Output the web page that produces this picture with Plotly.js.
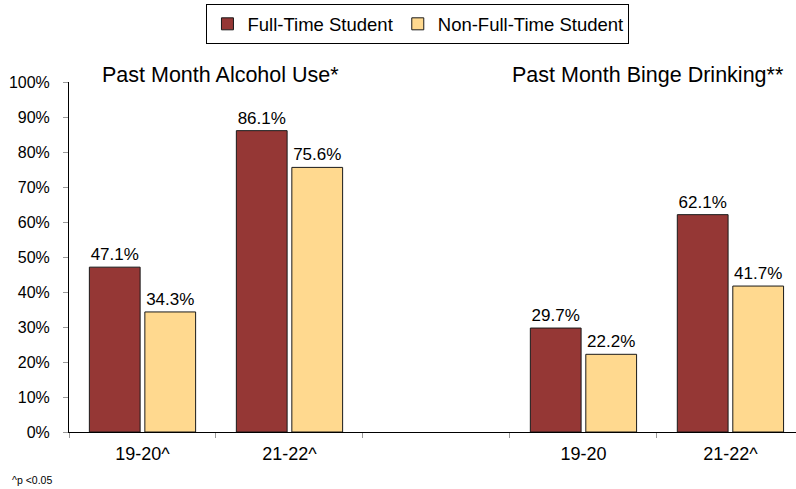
<!DOCTYPE html>
<html>
<head>
<meta charset="utf-8">
<script src="https://cdn.plot.ly/plotly-3.0.1.min.js"></script>
<style>html,body{margin:0;padding:0;background:#fff;}#chart{width:796px;height:489px;}</style>
</head>
<body>
<div id="chart"></div>
<script>
const categories = ["19-20^", "21-22^", "", "19-20", "21-22^"];
const fullTime = [47.1, 86.1, null, 29.7, 62.1];
const nonFullTime = [34.3, 75.6, null, 22.2, 41.7];
const seriesNames = ["Full-Time Student", "Non-Full-Time Student"];
const panelTitles = ["Past Month Alcohol Use*", "Past Month Binge Drinking**"];
const footnote = "^p <0.05";
const yTicks = [0, 10, 20, 30, 40, 50, 60, 70, 80, 90, 100];

const FONT = "Liberation Sans, Arial, sans-serif";
const xIdx = categories.map((_, i) => i);

function barTrace(name, vals, color) {
  return {
    type: "bar", name: name, x: xIdx, y: vals,
    marker: {color: color, line: {color: "#1a1a1a", width: 1}},
    text: vals.map(v => v == null ? "" : v.toFixed(1) + "%"),
    textposition: "outside", cliponaxis: false,
    textfont: {family: FONT, size: 17, color: "#000"},
    hoverinfo: "none"
  };
}

const data = [
  barTrace(seriesNames[0], fullTime, "#953735"),
  barTrace(seriesNames[1], nonFullTime, "#FFD98F")
];

const layout = {
  width: 796, height: 489,
  margin: {l: 69, r: 0, t: 82, b: 57},
  paper_bgcolor: "#fff", plot_bgcolor: "#fff",
  font: {family: FONT, color: "#000"},
  barmode: "group", bargap: 0.245, bargroupgap: 0.085,
  showlegend: true,
  legend: {
    orientation: "h", x: 0.48, xanchor: "center", y: 1.222, yanchor: "top",
    bordercolor: "#000", borderwidth: 1, font: {family: FONT, size: 18.5},
    itemclick: false, traceorder: "normal", itemwidth: 30
  },
  xaxis: {
    range: [-0.5, 4.446], tickmode: "array", tickvals: xIdx, ticktext: categories,
    ticks: "", showgrid: false, zeroline: false, showline: true, linecolor: "#000", linewidth: 1,
    tickfont: {family: FONT, size: 18}, ticklabelstandoff: 5,
    minor: {tick0: -0.5, dtick: 1, ticks: "outside", ticklen: 5, tickcolor: "#999", showgrid: false}
  },
  yaxis: {
    range: [0, 100], tickmode: "array", tickvals: yTicks, ticktext: yTicks.map(v => v + "%"),
    ticks: "outside", ticklen: 5, tickcolor: "#999", showgrid: false, zeroline: false,
    showline: true, linecolor: "#000", linewidth: 1,
    tickfont: {family: FONT, size: 16}, ticklabelstandoff: 10
  },
  annotations: [
    {text: panelTitles[0], xref: "paper", yref: "paper", x: 0.0426, y: 1.0186, xanchor: "left", yanchor: "middle", showarrow: false, font: {family: FONT, size: 21.5}},
    {text: panelTitles[1], xref: "paper", yref: "paper", x: 0.986, y: 1.0186, xanchor: "right", yanchor: "middle", showarrow: false, font: {family: FONT, size: 21.5}},
    {text: footnote, xref: "paper", yref: "paper", x: -0.081, y: -0.136, xanchor: "left", yanchor: "middle", showarrow: false, font: {family: FONT, size: 10.5}}
  ]
};

Plotly.newPlot("chart", data, layout, {displayModeBar: false, staticPlot: true});
</script>
</body>
</html>
